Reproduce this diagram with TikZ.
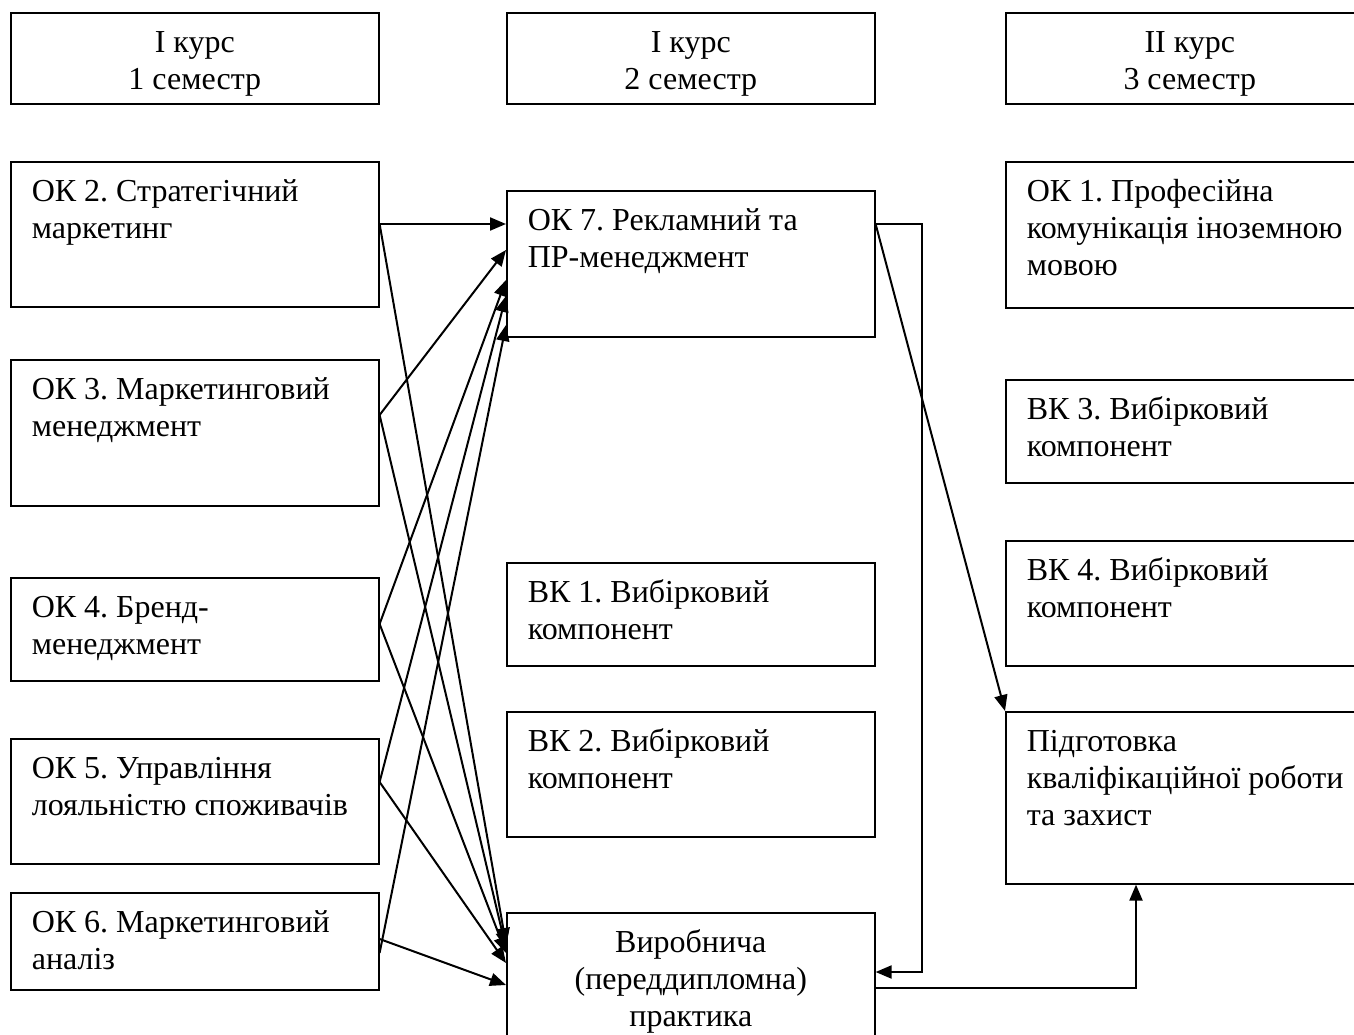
\documentclass[tikz,border=0pt]{standalone}
\usepackage{fontspec}
\setmainfont{Liberation Serif}
\usetikzlibrary{arrows.meta}
\frenchspacing
\begin{document}
\begin{tikzpicture}[x=1pt,y=-1pt,
  box/.style={draw, line width=1.6pt, inner sep=0pt, anchor=north west, font=\fontsize{32}{37}\selectfont},
  con/.style={line width=2pt},
  arr/.style={con, -{Triangle[length=16pt,width=13pt]}}]
\useasboundingbox (0,0) rectangle (1354,1035);
\clip (0,0) rectangle (1354,1035);
\newcommand\mylbox[6]{\node[box] (#1) at (#2,#3) {\parbox[t][#5pt][t]{#4pt}{\frenchspacing\raggedright\leftskip=21pt\rule{0pt}{40pt}#6}};}
\newcommand\mycbox[6]{\node[box] (#1) at (#2,#3) {\parbox[t][#5pt][t]{#4pt}{\frenchspacing\centering\rule{0pt}{40pt}#6}};}
% headers
\mycbox{h1}{10}{12}{368}{91}{I курс\\1 семестр}
\mycbox{h2}{506}{12}{368}{91}{I курс\\2 семестр}
\mycbox{h3}{1005}{12}{368}{91}{II курс\\3 семестр}
% left column
\mylbox{ok2}{10}{161}{368}{145}{ОК 2. Стратегічний\\маркетинг}
\mylbox{ok3}{10}{359}{368}{146}{ОК 3. Маркетинговий\\менеджмент}
\mylbox{ok4}{10}{577}{368}{103}{ОК 4. Бренд-\\менеджмент}
\mylbox{ok5}{10}{738}{368}{125}{ОК 5. Управління\\лояльністю споживачів}
\mylbox{ok6}{10}{892}{368}{97}{ОК 6. Маркетинговий\\аналіз}
% middle column
\mylbox{ok7}{506}{190}{368}{146}{ОК 7. Рекламний та\\ПР-менеджмент}
\mylbox{vk1}{506}{562}{368}{103}{ВК 1. Вибірковий\\компонент}
\mylbox{vk2}{506}{711}{368}{125}{ВК 2. Вибірковий\\компонент}
\mycbox{vir}{506}{912}{368}{150}{Виробнича\\(переддипломна)\\практика}
% right column
\mylbox{ok1}{1005}{161}{368}{146}{ОК 1. Професійна\\комунікація іноземною\\мовою}
\mylbox{vk3}{1005}{379}{368}{103}{ВК 3. Вибірковий\\компонент}
\mylbox{vk4}{1005}{540}{368}{125}{ВК 4. Вибірковий\\компонент}
\mylbox{pid}{1005}{711}{368}{172}{Підготовка\\кваліфікаційної роботи\\та захист}
% ports
\path (ok2.north east) ++(0,63) coordinate (s2);
\path (ok3.north east) ++(0,56) coordinate (s3);
\path (ok4.north east) ++(0,47) coordinate (s4);
\path (ok5.north east) ++(0,44) coordinate (s5);
\path (ok6.north east) ++(0,61) coordinate (s6u);
\path (ok6.north east) ++(0,47) coordinate (s6d);
\path (ok7.north west) ++(0,34) coordinate (t2);
\path (ok7.north west) ++(0,60) coordinate (t3);
\path (ok7.north west) ++(0,90) coordinate (t4);
\path (ok7.north west) ++(0,106) coordinate (t5);
\path (ok7.north west) ++(0,135) coordinate (t6);
\path (vir.north west) ++(0,32) coordinate (v2);
\path (vir.north west) ++(0,36) coordinate (v3);
\path (vir.north west) ++(0,41) coordinate (v4);
\path (vir.north west) ++(0,51) coordinate (v5);
\path (vir.north west) ++(0,73) coordinate (v6);
\path (ok7.north east) ++(0,34) coordinate (r7);
\path (r7) ++(46,0) coordinate (e1);
\path (vir.north east) ++(0,60) coordinate (vin);
\path (vir.north east) ++(0,76) coordinate (vout);
\path (pid.south west) ++(131,0) coordinate (pin);
% connectors into OK7
\draw[arr] (s2) -- (t2);
\draw[arr] (s3) -- (t3);
\draw[arr] (s4) -- (t4);
\draw[arr] (s5) -- (t5);
\draw[arr] (s6u) -- (t6);
% connectors into practice
\draw[arr] (s2) -- (v2);
\draw[arr] (s3) -- (v3);
\draw[arr] (s4) -- (v4);
\draw[arr] (s5) -- (v5);
\draw[arr] (s6d) -- (v6);
% OK7 outputs
\draw[arr] (r7) -- (e1) -- (e1 |- vin) -- (vin);
\draw[arr] (r7) -- (pid.north west);
% practice to thesis
\draw[arr] (vout) -- (pin |- vout) -- (pin);
\end{tikzpicture}
\end{document}
